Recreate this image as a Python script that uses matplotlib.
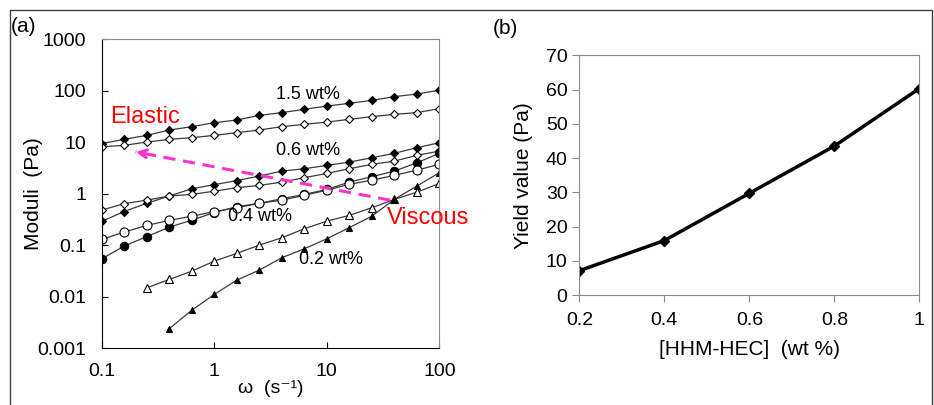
import numpy as np
import matplotlib
matplotlib.use("Agg")
import matplotlib.pyplot as plt
from matplotlib.patches import Rectangle

plt.rcParams['font.family'] = ['Liberation Sans', 'DejaVu Sans']

# --- data, panel (a): frequency sweep ---
omega = [0.1, 0.158, 0.251, 0.398, 0.631, 1, 1.58, 2.51, 3.98, 6.31,
         10, 15.8, 25.1, 39.8, 63.1, 100]

g1_15 = [9.4, 11.4, 13.6, 17.3, 20.1, 24.1, 27.0, 33.3, 37.7, 43.7,
         50.6, 57.1, 65.3, 77.1, 86.7, 103]
g2_15 = [8.2, 8.7, 10.1, 11.4, 12.3, 13.6, 15.4, 17.3, 20.1, 22.3,
         24.7, 27.9, 31.5, 34.9, 37.7, 45.1]
g1_06 = [0.29, 0.45, 0.65, 0.9, 1.25, 1.5, 1.8, 2.2, 2.75, 3.06,
         3.55, 4.12, 5.0, 6.1, 7.85, 9.8]
g2_06 = [0.48, 0.64, 0.75, 0.9, 0.97, 1.12, 1.31, 1.45, 1.68, 2.05,
         2.48, 3.06, 3.72, 4.3, 5.56, 6.75]
g1_04 = [0.054, 0.096, 0.146, 0.224, 0.306, 0.43, 0.56, 0.65, 0.8, 0.97,
         1.21, 1.68, 2.14, 2.75, 4.0, 6.1]
g2_04 = [0.129, 0.179, 0.242, 0.303, 0.366, 0.447, 0.534, 0.648, 0.75, 0.93,
         1.17, 1.52, 1.84, 2.27, 2.88, 3.72]
g2_02 = [0.0148, 0.0215, 0.0312, 0.0489, 0.069, 0.1, 0.139, 0.208, 0.293,
         0.378, 0.534, 0.775, 1.07, 1.58]          # from omega = 0.251
g1_02 = [0.00237, 0.00543, 0.011, 0.0208, 0.0327, 0.0569, 0.085, 0.133,
         0.218, 0.366, 0.775, 1.41, 2.56]          # from omega = 0.398

# --- data, panel (b): yield value ---
conc = [0.2, 0.4, 0.6, 0.8, 1.0]
yield_val = [7.1, 15.9, 29.7, 43.5, 60.3]

fig = plt.figure(figsize=(9.34, 4.05), dpi=100)

# outer frame
fig.patches.append(Rectangle((10 / 934, -0.1), 922 / 934, 1.1 - 10 / 405,
                             transform=fig.transFigure, fill=False,
                             edgecolor='#404040', lw=1.0))

line_c = '#3a3a3a'
ax1 = fig.add_axes([0.1089, 0.1407, 0.3615, 0.762])
ax1.set_xscale('log')
ax1.set_yscale('log')

def serie(x, y, marker, filled, ms):
    ax1.plot(x, y, color=line_c, lw=0.9, marker=marker, ms=ms,
             mfc='black' if filled else 'white', mec='black', mew=0.8)

serie(omega, g1_15, 'D', True, 4.5)
serie(omega, g2_15, 'D', False, 4.5)
serie(omega, g1_06, 'D', True, 4.5)
serie(omega, g2_06, 'D', False, 4.5)
serie(omega, g1_04, 'o', True, 6)
serie(omega, g2_04, 'o', False, 6.5)
serie(omega[2:], g2_02, '^', False, 6)
serie(omega[3:], g1_02, '^', True, 4.5)

ax1.set_xlim(0.1, 100)
ax1.set_ylim(0.001, 1000)
ax1.set_xticks([0.1, 1, 10, 100])
ax1.set_xticklabels(['0.1', '1', '10', '100'])
ax1.set_yticks([0.001, 0.01, 0.1, 1, 10, 100, 1000])
ax1.set_yticklabels(['0.001', '0.01', '0.1', '1', '10', '100', '1000'])
ax1.minorticks_off()
ax1.tick_params(direction='in', length=4, labelsize=14)
ax1.tick_params(axis='x', pad=11)
ax1.tick_params(axis='y', pad=11)
for s in ['top', 'right']:
    ax1.spines[s].set_color('#8a8a8a')
ax1.set_ylabel('Moduli  (Pa)', fontsize=15)
ax1.yaxis.set_label_coords(-0.175, 0.5)
ax1.set_xlabel('ω  (s⁻¹)', fontsize=14, labelpad=0)

ax1.text(6.84, 86, '1.5 wt%', fontsize=13, ha='center', va='center')
ax1.text(6.84, 6.95, '0.6 wt%', fontsize=13, ha='center', va='center')
ax1.text(2.56, 0.36, '0.4 wt%', fontsize=13, ha='center', va='center')
ax1.text(10.9, 0.0525, '0.2 wt%', fontsize=13, ha='center', va='center')
ax1.text(0.243, 30.4, 'Elastic', fontsize=17, color='red', ha='center', va='center')
ax1.text(79.6, 0.33, 'Viscous', fontsize=17, color='red', ha='center', va='center')

pink = '#FF33CC'
ax1.plot([36.5, 0.2], [0.75, 6.5], color=pink, lw=2.2, ls=(0, (4, 2.5)))
ax1.annotate('', xy=(0.19, 6.65), xytext=(0.26, 5.9),
             arrowprops=dict(arrowstyle='->', color=pink, lw=2.2,
                             mutation_scale=14))

fig.text(23 / 934, 1 - 27 / 405, '(a)', fontsize=15, ha='center', va='center')
fig.text(505 / 934, 1 - 28 / 405, '(b)', fontsize=15, ha='center', va='center')

# --- panel (b) ---
ax2 = fig.add_axes([0.6203, 0.2716, 0.364, 0.5919])
ax2.plot(conc, yield_val, color='black', lw=2.5, marker='D', ms=5.5)
ax2.set_xlim(0.2, 1.0)
ax2.set_ylim(0, 70)
ax2.set_xticks(conc)
ax2.set_xticklabels(['0.2', '0.4', '0.6', '0.8', '1'])
ax2.set_yticks(np.arange(0, 71, 10))
for s in ax2.spines.values():
    s.set_color('#8a8a8a')
ax2.tick_params(direction='out', length=5, color='#8a8a8a', labelsize=14)
ax2.tick_params(axis='x', pad=7)
ax2.set_ylabel('Yield value (Pa)', fontsize=15, labelpad=9)
ax2.set_xlabel('[HHM-HEC]  (wt %)', fontsize=15, labelpad=8)

fig.savefig('out.png', dpi=100)
